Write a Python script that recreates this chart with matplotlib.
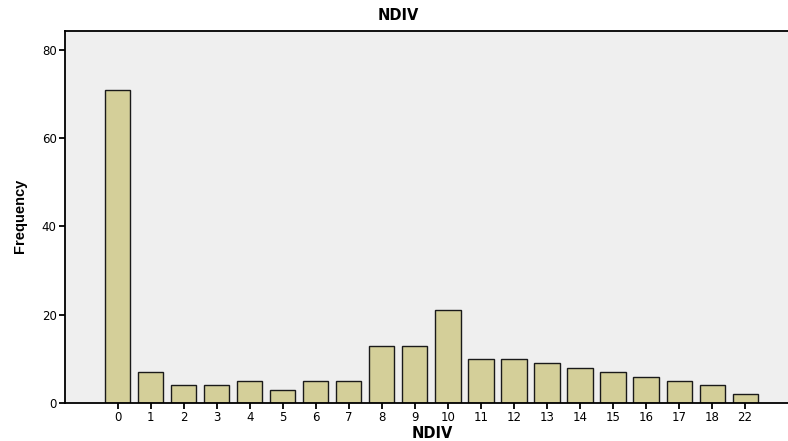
import matplotlib
matplotlib.use("Agg")
import matplotlib.pyplot as plt
import numpy as np

categories = ["0", "1", "2", "3", "4", "5", "6", "7", "8", "9",
              "10", "11", "12", "13", "14", "15", "16", "17", "18", "22"]
frequency = [71, 7, 4, 4, 5, 3, 5, 5, 13, 13, 21, 10, 10, 9, 8, 7, 6, 5, 4, 2]
y_ticks = [0, 20, 40, 60, 80]

plt.rcParams['font.family'] = ['DejaVu Sans']

fig = plt.figure(figsize=(7.88, 4.41), dpi=100)
ax = fig.add_axes([0.0825, 0.0862, 0.9175, 0.8435])
ax.set_facecolor("#EFEFEF")

x = np.arange(len(categories))
ax.bar(x, frequency, width=0.76, color="#D4CF99", edgecolor="#1a1a1a", linewidth=1.0, zorder=2)

ax.set_xlim(-1.6, 20.3)
ax.set_ylim(0, 84.3)
ax.set_xticks(x)
ax.set_xticklabels(categories)
ax.set_yticks(y_ticks)
ax.tick_params(axis="both", direction="out", length=4, width=1.3, labelsize=8.5, colors="black", pad=2)

for side in ["top", "left", "bottom"]:
    ax.spines[side].set_linewidth(1.3)
ax.spines["right"].set_visible(False)

fig.text(0.505, 0.965, "NDIV", ha="center", va="center", fontsize=10.5, fontweight="bold")
fig.text(0.548, 0.0, "NDIV", ha="center", va="bottom", fontsize=10.5, fontweight="bold")
fig.text(0.026, 0.51, "Frequency", ha="center", va="center", rotation=90, fontsize=10.5,
         fontweight="bold", family=["Liberation Sans Narrow", "Liberation Sans", "DejaVu Sans"])

fig.savefig("out.png", dpi=100)
